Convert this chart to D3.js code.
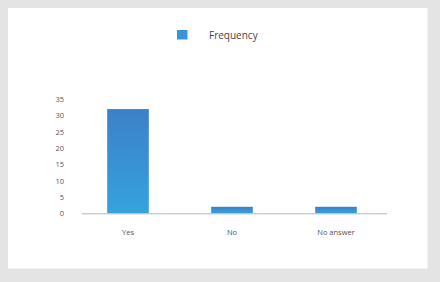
<!DOCTYPE html>
<html>
<head>
<meta charset="utf-8">
<script src="https://cdn.jsdelivr.net/npm/d3@7"></script>
<style>
  body { margin: 0; background: #e4e4e4; }
  svg { display: block; }
  text { font-family: "Open Sans", "Noto Sans", sans-serif; }
</style>
</head>
<body>
<script>
let w = 440
let h = 282

let categories = ["Yes", "No", "No answer"]
let frequency = [32, 2, 2]
let yTicks = [0, 5, 10, 15, 20, 25, 30, 35]
let seriesName = "Frequency"

let svg = d3.select("body").append("svg")
  .attr("width", w)
  .attr("height", h)

// grey frame + white card
svg.append("rect").attr("width", w).attr("height", h).attr("fill", "#e4e4e4")
svg.append("rect")
  .attr("x", 8).attr("y", 8)
  .attr("width", 419.5).attr("height", 260.5)
  .attr("fill", "#ffffff")

let defs = svg.append("defs")
let grad = defs.append("linearGradient")
  .attr("id", "barGrad")
  .attr("x1", 0).attr("y1", 0).attr("x2", 0).attr("y2", 1)
grad.append("stop").attr("offset", "0%").attr("stop-color", "#3c80c8")
grad.append("stop").attr("offset", "100%").attr("stop-color", "#35a3de")

let x = d3.scaleBand()
  .domain(categories)
  .range([76, 388])
  .paddingInner(0.6)
  .paddingOuter(0.3)

let y = d3.scaleLinear()
  .domain([0, 35])
  .range([213.3, 99.3])

// y tick labels
let yAxis = svg.append("g")
  .attr("transform", "translate(64,0)")
  .call(d3.axisLeft(y).tickValues(yTicks).tickSize(0).tickPadding(0))
yAxis.select(".domain").remove()
yAxis.selectAll("text")
  .attr("fill", "#555")
  .style("font-size", "7.5px")

// bars
svg.selectAll("rect.bar")
  .data(frequency)
  .enter()
  .append("rect")
  .attr("class", "bar")
  .attr("x", (d, i) => x(categories[i]))
  .attr("y", d => y(d))
  .attr("width", x.bandwidth())
  .attr("height", d => y(0) - y(d))
  .attr("fill", "url(#barGrad)")

// x axis
let xAxis = svg.append("g")
  .attr("transform", "translate(0," + y(0) + ")")
  .call(d3.axisBottom(x).tickSize(0).tickPadding(16))
xAxis.select(".domain")
  .attr("d", "M82,0.5H387")
  .attr("stroke", "#b5b5b5")
xAxis.selectAll("text")
  .attr("fill", "#555")
  .style("font-size", "7.5px")

// legend
let legend = svg.append("g")
legend.append("rect")
  .attr("x", 177).attr("y", 30)
  .attr("width", 10.5).attr("height", 9.5)
  .attr("fill", "#3a95d6")
legend.append("text")
  .text(seriesName)
  .attr("x", 209)
  .attr("y", 35)
  .attr("dy", "0.35em")
  .attr("fill", "#444")
  .style("font-size", "10px")
</script>
</body>
</html>
